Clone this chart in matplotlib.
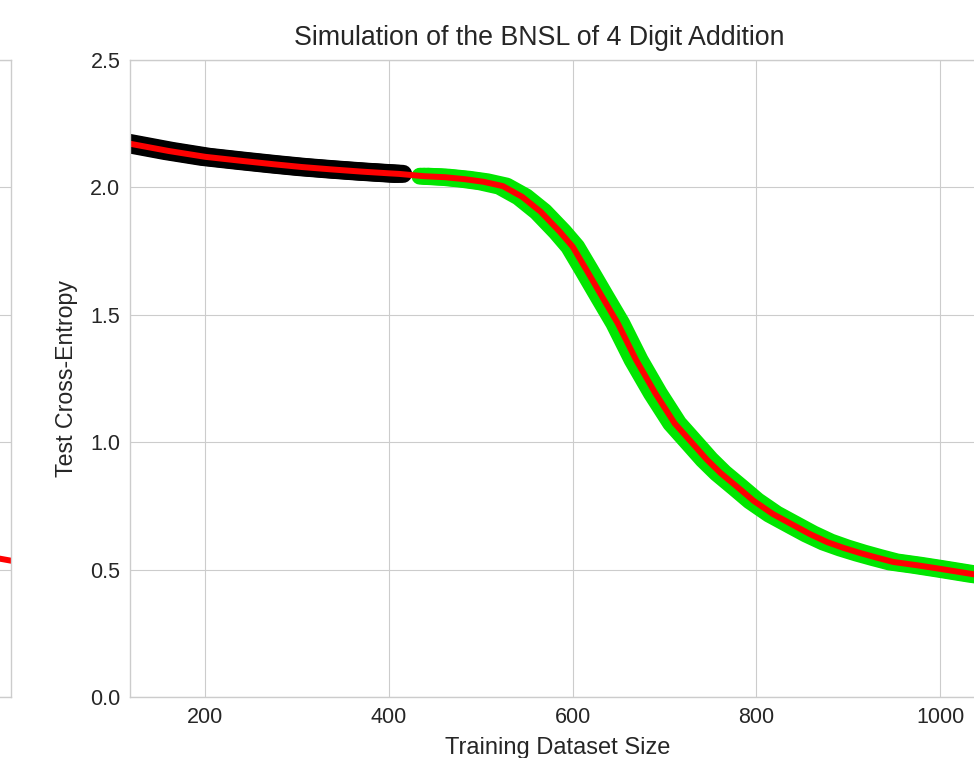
import matplotlib.pyplot as plt
import matplotlib.transforms as mtransforms
import numpy as np

plt.style.use('seaborn-v0_8-whitegrid')
plt.rcParams['font.family'] = ['Liberation Sans', 'DejaVu Sans']

# points
black_x = [105, 120, 160, 200, 240, 274, 305, 336, 370, 401, 411]
black_y = [2.180, 2.170, 2.143, 2.120, 2.104, 2.091, 2.080, 2.071, 2.062, 2.055, 2.053]

green_x = [438, 461, 483, 503, 524, 545, 565, 586, 600, 615, 632, 649, 669, 690,
           711, 732, 746, 761, 780, 797, 818, 840, 858, 877, 895, 913, 931, 949,
           975, 1000, 1036, 1060]
green_y = [2.044, 2.040, 2.032, 2.022, 2.005, 1.963, 1.905, 1.826, 1.767, 1.676,
           1.571, 1.467, 1.323, 1.192, 1.074, 0.989, 0.932, 0.879, 0.822, 0.770,
           0.718, 0.675, 0.640, 0.608, 0.585, 0.565, 0.547, 0.530, 0.517, 0.503,
           0.482, 0.470]

fit_x = black_x + green_x
fit_y = black_y + green_y

# tail of the neighbouring panel
side_x = [0.90, 0.97, 1.00, 1.02]
side_y = [0.575, 0.548, 0.535, 0.528]

W, H = 974, 758
fig = plt.figure(figsize=(W / 100, H / 100), dpi=100)

ax0 = fig.add_axes([-600 / W, 61 / H, 611 / W, 637 / H])
ax0.plot(side_x, side_y, color='red', lw=4.3)
ax0.set_xlim(0, 1.0)
ax0.set_ylim(0, 2.5)
ax0.set_yticks([0, 0.5, 1.0, 1.5, 2.0, 2.5])
ax0.set_xticks([0.25, 0.5, 0.75])
ax0.tick_params(labelleft=False, labelbottom=False)

ax = fig.add_axes([130 / W, 61 / H, (986 - 130) / W, 637 / H])

# the data bands are drawn a few pixels to either side so they widen on steep parts
for dx in (-4, 0, 4):
    tr = mtransforms.offset_copy(ax.transData, fig=fig, x=dx, y=0, units='dots')
    ax.plot(black_x, black_y, color='black', lw=13, solid_capstyle='round',
            transform=tr)
    ax.plot(green_x, green_y, color='#00e600', lw=12.2, solid_capstyle='round',
            transform=tr)
ax.plot(fit_x, fit_y, color='red', lw=4.3, solid_joinstyle='round')

ax.set_xlim(118, 1050)
ax.set_ylim(0, 2.5)
ax.set_xticks([200, 400, 600, 800, 1000])
ax.set_yticks([0.0, 0.5, 1.0, 1.5, 2.0, 2.5])
ax.tick_params(labelsize=15.5, colors='.15', pad=7)
ax.set_xlabel('Training Dataset Size', fontsize=17, color='.15', labelpad=7)
ax.set_ylabel('Test Cross-Entropy', fontsize=16.7, color='.15', labelpad=9)
ax.set_title('Simulation of the BNSL of 4 Digit Addition', fontsize=19.3, color='.15',
             pad=10.5, x=0.478)

fig.savefig('out.png', dpi=100)
